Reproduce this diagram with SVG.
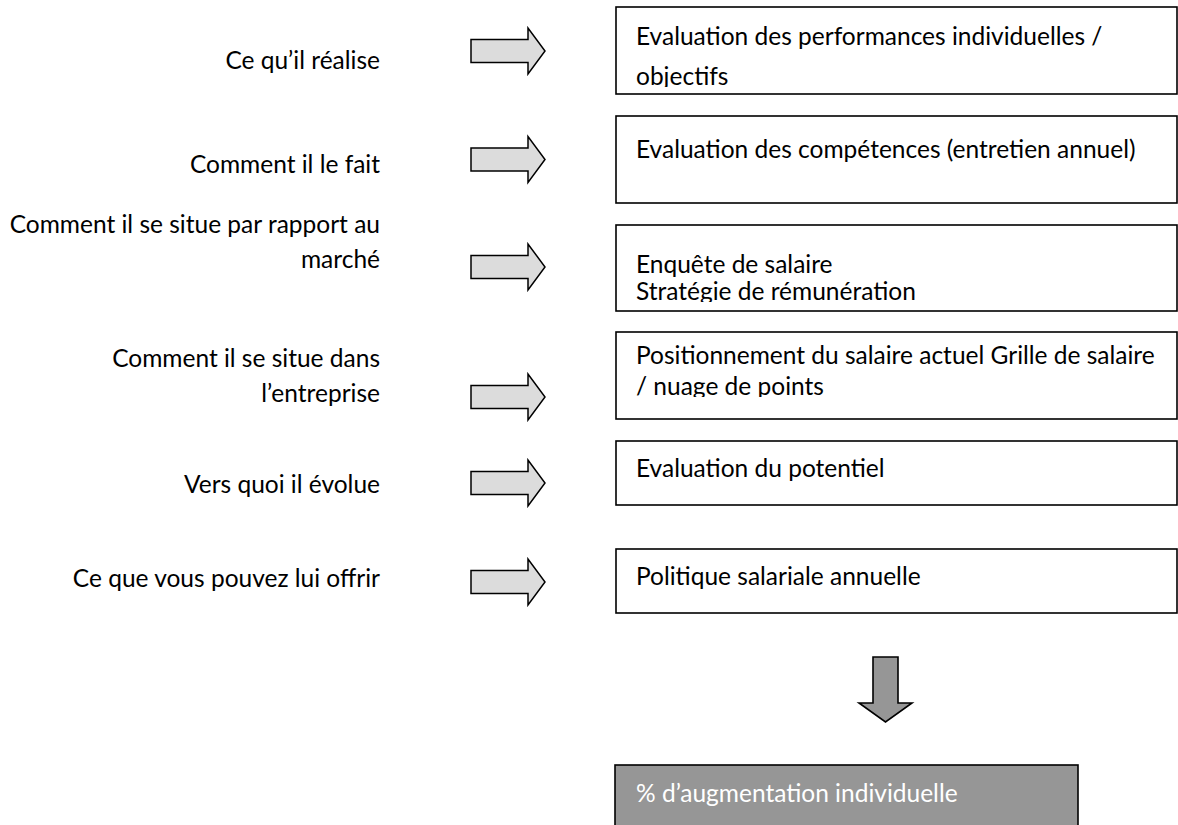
<svg xmlns="http://www.w3.org/2000/svg" width="1178" height="825" viewBox="0 0 1178 825">
<defs>
<style>
text{font-family:Lato,"Liberation Sans",sans-serif;font-size:24.5px;fill:#000}
.lbl{text-anchor:end}
.box{fill:#fff;stroke:#000;stroke-width:1.6}
.arr{fill:#dcdcdc;stroke:#000;stroke-width:1.5;stroke-linejoin:miter}
.dark{fill:#969696;stroke:#000;stroke-width:1.6}
.wt{fill:#fff}
</style>
<path id="rarrow" d="M0,-11.5 H57 V-23 L74,0 L57,23 V11.5 H0 Z"/>
<clipPath id="c1"><rect x="616" y="7" width="561" height="80"/></clipPath>
<clipPath id="c3"><rect x="616" y="225" width="561" height="77"/></clipPath>
<clipPath id="c4"><rect x="616" y="332" width="561" height="65"/></clipPath>
</defs>
<rect width="1178" height="825" fill="#fff"/>
<g id="labels">
<text class="lbl" x="380" y="69">Ce qu’il réalise</text>
<text class="lbl" x="380" y="173">Comment il le fait</text>
<text class="lbl" x="380" y="233">Comment il se situe par rapport au</text>
<text class="lbl" x="380" y="268">marché</text>
<text class="lbl" x="380" y="367">Comment il se situe dans</text>
<text class="lbl" x="380" y="402">l’entreprise</text>
<text class="lbl" x="380" y="493">Vers quoi il évolue</text>
<text class="lbl" x="380" y="587">Ce que vous pouvez lui offrir</text>
</g>
<g id="connectors">
<use href="#rarrow" class="arr" x="471" y="51"/>
<use href="#rarrow" class="arr" x="471" y="159.5"/>
<use href="#rarrow" class="arr" x="471" y="267"/>
<use href="#rarrow" class="arr" x="471" y="397"/>
<use href="#rarrow" class="arr" x="471" y="483"/>
<use href="#rarrow" class="arr" x="471" y="582"/>
<path class="dark" d="M873,657 H898 V703 H912 L885.5,722 L859,703 H873 Z"/>
</g>
<g id="box1">
<rect class="box" x="616" y="7" width="561" height="87"/>
<g clip-path="url(#c1)">
<text x="636" y="45">Evaluation des performances individuelles /</text>
<text x="636" y="85">objectifs</text>
</g>
</g>
<g id="box2">
<rect class="box" x="616" y="116" width="561" height="87"/>
<text x="636" y="158">Evaluation des compétences (entretien annuel)</text>
</g>
<g id="box3">
<rect class="box" x="616" y="225" width="561" height="86"/>
<g clip-path="url(#c3)">
<text x="636" y="273">Enquête de salaire</text>
<text x="636" y="300">Stratégie de rémunération</text>
</g>
</g>
<g id="box4">
<rect class="box" x="616" y="332" width="561" height="87"/>
<g clip-path="url(#c4)">
<text x="636" y="364">Positionnement du salaire actuel Grille de salaire</text>
<text x="636" y="395">/ nuage de points</text>
</g>
</g>
<g id="box5">
<rect class="box" x="616" y="441" width="561" height="64"/>
<text x="636" y="477">Evaluation du potentiel</text>
</g>
<g id="box6">
<rect class="box" x="616" y="549" width="561" height="64"/>
<text x="636" y="585">Politique salariale annuelle</text>
</g>
<g id="result">
<rect class="dark" x="615" y="765" width="463" height="70"/>
<text class="wt" x="636" y="802">% d’augmentation individuelle</text>
</g>
</svg>
